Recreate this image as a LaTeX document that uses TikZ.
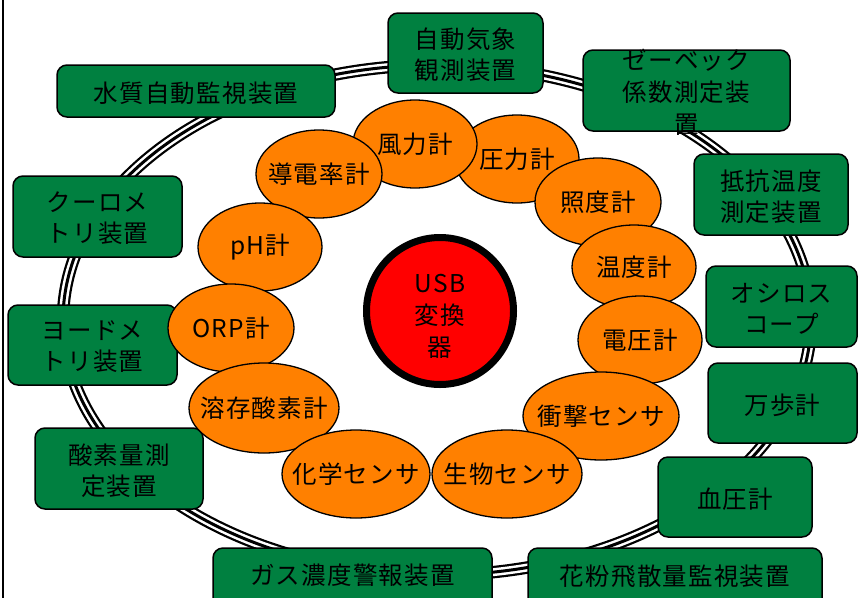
\documentclass[tikz,border=0pt]{standalone}
\usepackage{fontspec}
\newfontfamily\jp[LetterSpace=5]{Noto Sans CJK JP}
\usetikzlibrary{shapes.geometric}
\definecolor{boxgreen}{RGB}{0,128,64}
\definecolor{ellorange}{RGB}{255,128,0}
\definecolor{usbred}{RGB}{255,0,0}
\begin{document}
\begin{tikzpicture}[x=1pt,y=-1pt,
  gbox/.style={rectangle, draw=black, line width=1.5pt, fill=boxgreen, rounded corners=10pt, inner sep=0pt},
  oell/.style={ellipse, draw=black, line width=1.3pt, fill=ellorange, inner sep=0pt},
  lbl/.style={font=\jp\fontsize{24.5}{31}\selectfont, align=center, inner sep=0pt, text=black}]
\useasboundingbox (0,0) rectangle (858,597);
\clip (0,0) rectangle (858,597);
% frame line at left
\coordinate (ft) at (3,-10);
\coordinate (fb) at (3,610);
\draw[line width=2pt] (ft) -- (fb);
% triple ring
\coordinate (rc) at (437,320);
\draw[line width=12.5pt, black] (rc) ellipse [x radius=374, y radius=255];
\draw[line width=8pt, white] (rc) ellipse [x radius=374, y radius=255];
\draw[line width=3pt, black] (rc) ellipse [x radius=374, y radius=255];
% green boxes
\node[gbox, minimum width=278pt, minimum height=52pt] (wq) at (196,91) {};
\node[gbox, minimum width=155pt, minimum height=80pt] (am) at (465.5,53) {};
\node[gbox, minimum width=207pt, minimum height=81pt] (sb) at (686.5,90.5) {};
\node[gbox, minimum width=154pt, minimum height=81pt] (rt) at (771,194.5) {};
\node[gbox, minimum width=151pt, minimum height=81pt] (os) at (781.5,306.5) {};
\node[gbox, minimum width=149pt, minimum height=80pt] (pd) at (782.5,403) {};
\node[gbox, minimum width=154pt, minimum height=80pt] (bp) at (735,497) {};
\node[gbox, minimum width=294pt, minimum height=72pt] (pl) at (675,584) {};
\node[gbox, minimum width=279pt, minimum height=72pt] (gs) at (352.5,584) {};
\node[gbox, minimum width=168pt, minimum height=81pt] (ox) at (119,468.5) {};
\node[gbox, minimum width=169pt, minimum height=80pt] (io) at (92.5,345) {};
\node[gbox, minimum width=169pt, minimum height=81pt] (cl) at (97.5,216.5) {};
\node[lbl] (wq-t) at ([yshift=-2pt]wq.center) {水質自動監視装置};
\node[lbl] (am-t) at ([yshift=-2pt]am.center) {自動気象\\観測装置};
\node[lbl, font=\jp\fontsize{24.5}{32}\selectfont] (sb-t) at ([yshift=-2pt]sb.center) {ゼーベック\\係数測定装\\置};
\node[lbl] (rt-t) at ([yshift=-2pt]rt.center) {抵抗温度\\測定装置};
\node[lbl] (os-t) at ([yshift=-2pt]os.center) {オシロス\\コープ};
\node[lbl] (pd-t) at ([yshift=-2pt]pd.center) {万歩計};
\node[lbl] (bp-t) at ([yshift=-2pt]bp.center) {血圧計};
\node[lbl] (pl-t) at (675,576) {花粉飛散量監視装置};
\node[lbl] (gs-t) at (352.5,575) {ガス濃度警報装置};
\node[lbl] (ox-t) at ([yshift=-2pt]ox.center) {酸素量測\\定装置};
\node[lbl] (io-t) at ([yshift=-2pt]io.center) {ヨードメ\\トリ装置};
\node[lbl] (cl-t) at ([yshift=-2pt]cl.center) {クーロメ\\トリ装置};
% orange ellipses
\node[oell, minimum width=124pt, minimum height=88pt] (pr) at (517,159) {};
\node[oell, minimum width=126pt, minimum height=88pt] (il) at (598,202) {};
\node[oell, minimum width=124pt, minimum height=84pt] (tm) at (634,267) {};
\node[oell, minimum width=124pt, minimum height=88pt] (vt) at (640,340) {};
\node[oell, minimum width=156pt, minimum height=88pt] (sh) at (601,416) {};
\node[oell, minimum width=150pt, minimum height=88pt] (bi) at (507,474) {};
\node[oell, minimum width=124pt, minimum height=88pt] (wi) at (415,144) {};
\node[oell, minimum width=126pt, minimum height=88pt] (co) at (319,174) {};
\node[oell, minimum width=124pt, minimum height=88pt] (ph) at (260,247) {};
\node[oell, minimum width=126pt, minimum height=88pt] (orp) at (231,328) {};
\node[oell, minimum width=150pt, minimum height=90pt] (do) at (264,408) {};
\node[oell, minimum width=148pt, minimum height=88pt] (ch) at (356,474) {};
\node[lbl] (pr-t) at (pr.center) {圧力計};
\node[lbl] (il-t) at (il.center) {照度計};
\node[lbl] (tm-t) at (tm.center) {温度計};
\node[lbl] (vt-t) at (vt.center) {電圧計};
\node[lbl] (sh-t) at (sh.center) {衝撃センサ};
\node[lbl] (bi-t) at (bi.center) {生物センサ};
\node[lbl] (wi-t) at (wi.center) {風力計};
\node[lbl] (co-t) at (co.center) {導電率計};
\node[lbl] (ph-t) at (ph.center) {pH計};
\node[lbl] (orp-t) at (orp.center) {ORP計};
\node[lbl] (do-t) at (do.center) {溶存酸素計};
\node[lbl] (ch-t) at (ch.center) {化学センサ};
% centre
\node[circle, draw=black, line width=7pt, fill=usbred, minimum size=147pt, inner sep=0pt] (usb) at (440,311) {};
\node[lbl, font=\jp\fontsize{24.5}{32}\selectfont] (usb-t) at (440,316) {USB\\変換\\器};
\end{tikzpicture}
\end{document}
